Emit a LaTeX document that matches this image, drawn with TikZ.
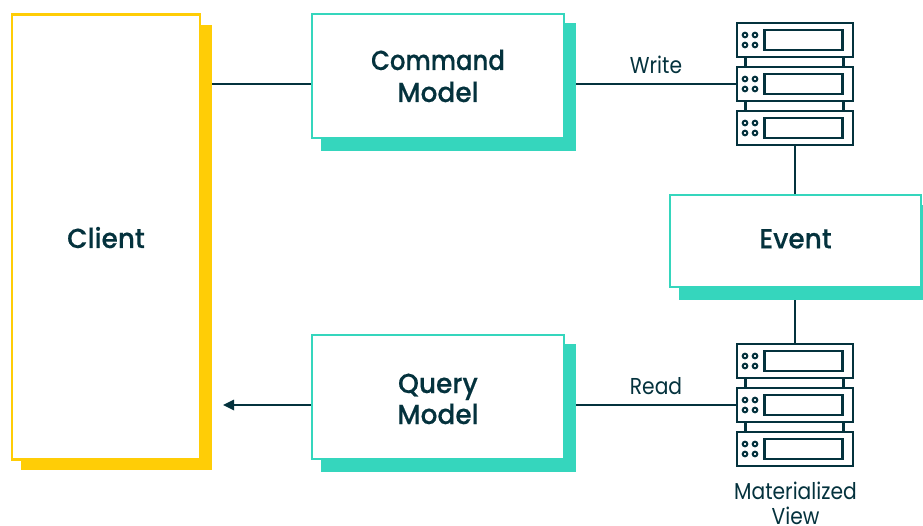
\documentclass[tikz,border=0pt]{standalone}
\usepackage{fontspec}
\setmainfont{Poppins}[FakeStretch=0.88]
\newfontfamily\headfont{Poppins}[UprightFont=* Medium,FakeStretch=0.96,FakeBold=0.35]
\newfontfamily\headnarrow{Poppins}[UprightFont=* Medium,FakeStretch=0.885,FakeBold=0.35]
\definecolor{ink}{HTML}{04323D}
\definecolor{teal}{HTML}{35D6BD}
\definecolor{gold}{HTML}{FFCD06}
\newcommand\lstrut[1]{\rule[-#1pt]{0pt}{31pt}}
\tikzset{
  boxbase/.style={draw=#1,line width=2.3pt,fill=white,minimum width=0pt,inner sep=0pt,align=center,text=ink,font=\headfont\fontsize{27.5}{32}\selectfont},
  shadowbox/.style={fill=#1,draw=none,inner sep=0pt},
  conn/.style={draw=ink,line width=2.3pt},
  lbl/.style={text=ink,font=\fontsize{23}{27}\selectfont,inner sep=0pt,align=center},
  unitbox/.style={draw=ink,line width=2.4pt,fill=white,minimum width=116pt,minimum height=34.5pt,inner sep=0pt},
  screenbox/.style={draw=ink,line width=2.4pt,fill=white,minimum width=78pt,minimum height=20.5pt,inner sep=0pt},
  led/.style={circle,draw=ink,line width=2pt,fill=white,minimum size=4.6pt,inner sep=0pt},
  pics/serverstack/.style={code={
    \draw[conn] (-49.5,0) -- (-49.5,88) (48.5,0) -- (48.5,88);
    \foreach \n/\y in {1/0,2/44,3/88}{
      \node[unitbox] (-u\n) at (0,\y) {};
      \node[screenbox] (-s\n) at (8.5,\y) {};
      \foreach \a/\ax in {a/-50,b/-40}{\foreach \b/\by in {a/-5,b/5}{
        \node[led] (-l\n\a\b) at (\ax,\y+\by) {};
      }}
    }
  }}
}
\begin{document}
\begin{tikzpicture}[x=1pt,y=-1pt]
\useasboundingbox (0,0) rectangle (923,526);
% shadows
\node[shadowbox=gold,minimum width=191pt,minimum height=445pt] (cs) at (116.5,247.5) {};
\node[shadowbox=teal,minimum width=255pt,minimum height=128pt] (cms) at (448.5,87) {};
\node[shadowbox=teal,minimum width=255pt,minimum height=128pt] (qms) at (448.5,408) {};
\node[shadowbox=teal,minimum width=244pt,minimum height=95pt] (es) at (801,252.5) {};
% boxes
\node[boxbase=gold,minimum width=188pt,minimum height=445pt] (client) at (106,237) {\lstrut{4.5}Client};
\node[boxbase=teal,minimum width=252pt,minimum height=124pt] (cmd) at (438,76) {\lstrut{5.5}{\headnarrow Command}\\\lstrut{5.5}Model};
\node[boxbase=teal,minimum width=252pt,minimum height=124pt,font=\headfont\fontsize{27.5}{31}\selectfont] (qry) at (438,397) {\lstrut{4}\smash{Query}\\\lstrut{4}Model};
% servers
\path (795,40) pic (w) {serverstack};
\path (795,361) pic (r) {serverstack};
\node[boxbase=teal,minimum width=251pt,minimum height=92pt] (event) at (795.5,241) {\lstrut{8.2}Event};
% connectors
\draw[conn] (cs.east |- w-u2.west) -- (cmd.west |- w-u2.west);
\draw[conn] (cms.east |- w-u2.west) -- (w-u2.west);
\draw[conn] (qms.east |- r-u2.west) -- (r-u2.west);
\draw[conn] (w-u3.south) -- (event.north -| w-u3.south);
\draw[conn] (es.south -| r-u1.north) -- (r-u1.north);
\coordinate (tip) at (223,405);
\draw[conn] (qry.west |- r-u2.west) -- (233,405);
\fill[ink] (tip) -- (234,399.5) -- (234,410.5) -- cycle;
% labels
\node[lbl] (lw) at (656,65) {Write};
\node[lbl] (lr) at (656,386) {Read};
\node[lbl,font=\fontsize{23}{25}\selectfont] (lm) at (795.5,503.5) {Materialized\\View};
\end{tikzpicture}
\end{document}
